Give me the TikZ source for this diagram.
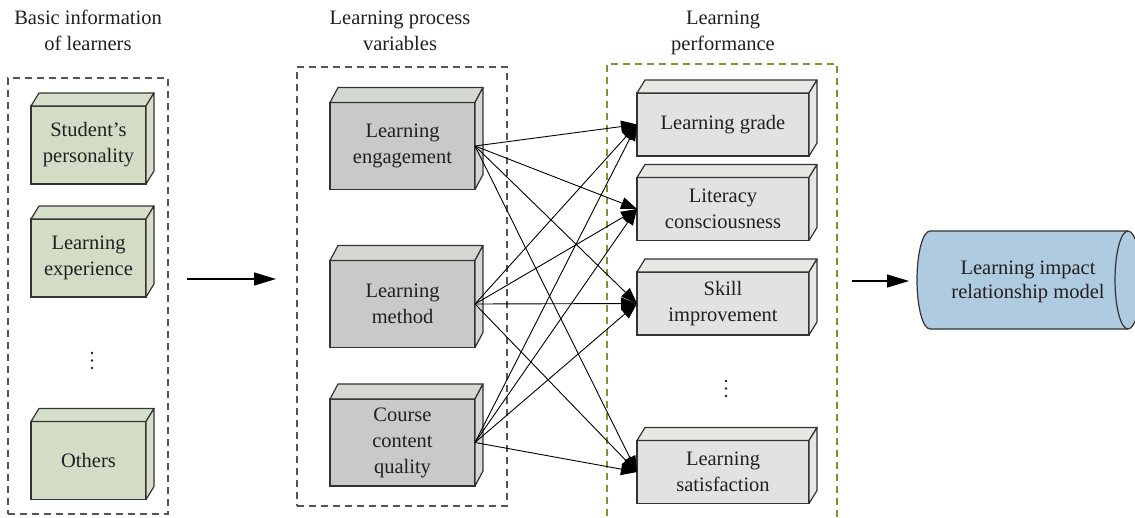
\documentclass[tikz,border=0pt]{standalone}
\usepackage{fontspec}
\setmainfont{Liberation Serif}
\usetikzlibrary{arrows.meta,calc}
\definecolor{gfill}{HTML}{D3DDC5}
\definecolor{gside}{HTML}{D6DFCA}
\definecolor{pfill}{HTML}{C8C9C8}
\definecolor{pside}{HTML}{D5D8D2}
\definecolor{rfill}{HTML}{E2E2E2}
\definecolor{rside}{HTML}{E6E8E3}
\definecolor{cylfill}{HTML}{AFCBE0}
\definecolor{edgec}{HTML}{333333}
\definecolor{textc}{HTML}{231F20}
\definecolor{framec}{HTML}{555555}
\definecolor{olivec}{HTML}{8C8C2A}
\begin{document}
\begin{tikzpicture}[x=1pt,y=-1pt,
  txt/.style={font=\rmfamily\fontsize{20.5}{26}\selectfont, text=textc, align=center},
  bx/.style={draw=edgec, line width=1.2pt, inner sep=0pt, outer sep=0pt, txt},
  gbox/.style={bx, fill=gfill, minimum width=115pt, minimum height=78pt},
  pbox/.style={bx, fill=pfill, minimum width=145pt, minimum height=87pt},
  rbox/.style={bx, fill=rfill, minimum width=172pt, minimum height=63pt},
  faces/.style={draw=edgec, line width=1.2pt, line join=round},
  frame/.style={draw=#1, line width=1.2pt, dash pattern=on 7pt off 5pt, inner sep=0pt, outer sep=0pt},
  link/.style={-{Triangle[length=16pt,width=12pt]}, line width=0.9pt, draw=black},
  bigarrow/.style={-{Triangle[length=22pt,width=13pt]}, line width=1.2pt, draw=black},
  dotmark/.style={circle, fill=textc, inner sep=0pt, minimum size=2.6pt}]
\useasboundingbox (0,0) rectangle (1135,517);
\clip (0,0) rectangle (1135,517);

% titles
\node[txt, anchor=base] (t1) at (88,50) {Basic information\\of learners};
\node[txt, anchor=base] (t2) at (400,50) {Learning process\\variables};
\node[txt, anchor=base] (t3) at (723,50) {Learning\\performance};

% frames
\node[frame=framec, minimum width=160pt, minimum height=436pt] (f1) at (88,296) {};
\node[frame=framec, minimum width=210pt, minimum height=439pt] (f2) at (402,286.5) {};
\draw[frame=olivec] (607,540) -- (607,64) -- (837,64) -- (837,540);

% green boxes
\node[gbox] (g1) at (88.5,145) {Student's\\personality};
\node[gbox] (g2) at (88.5,258) {Learning\\experience};
\node[gbox] (g3) at (88.5,460.5) {Others};
\foreach \yy [count=\i] in {353,360.5,368}{ \node[dotmark] (gd\i) at (92,\yy) {}; }
\foreach \n in {g1,g2,g3}{
  \draw[faces, fill=gside] (\n.north west) -- ++(8,-13) -- ($(\n.north east)+(8,-13)$) -- (\n.north east) -- cycle;
  \draw[faces, fill=gside] (\n.north east) -- ++(8,-13) -- ($(\n.south east)+(8,-13)$) -- (\n.south east) -- cycle;
}

% process boxes
\node[pbox] (p1) at (402.5,146) {Learning\\engagement};
\node[pbox] (p2) at (402.5,304) {Learning\\method};
\node[pbox] (p3) at (402.5,442.5) {Course\\content\\quality};
\foreach \n in {p1,p2,p3}{
  \draw[faces, fill=pside] (\n.north west) -- ++(8,-15) -- ($(\n.north east)+(8,-15)$) -- (\n.north east) -- cycle;
  \draw[faces, fill=pside] (\n.north east) -- ++(8,-15) -- ($(\n.south east)+(8,-15)$) -- (\n.south east) -- cycle;
}

% performance boxes
\node[rbox] (r1) at (723,124.5) {Learning grade};
\node[rbox] (r2) at (723,209) {Literacy\\consciousness};
\node[rbox] (r3) at (723,303.5) {Skill\\improvement};
\node[rbox] (r4) at (723,472) {Learning\\satisfaction};
\foreach \yy [count=\i] in {381,388.5,396}{ \node[dotmark] (rd\i) at (726,\yy) {}; }
\foreach \n in {r1,r2,r3,r4}{
  \draw[faces, fill=rside] (\n.north west) -- ++(8,-13) -- ($(\n.north east)+(8,-13)$) -- (\n.north east) -- cycle;
  \draw[faces, fill=rside] (\n.north east) -- ++(8,-13) -- ($(\n.south east)+(8,-13)$) -- (\n.south east) -- cycle;
}

% links
\foreach \s in {p1,p2,p3}{
  \foreach \t in {r1,r2,r3,r4}{
    \draw[link] (\s.east) -- (\t.west);
  }
}

% cylinder
\fill[cylfill] (930,231) -- (1128,231) arc[start angle=90, end angle=-90, x radius=13pt, y radius=49pt]
  -- (930,329) arc[start angle=270, end angle=90, x radius=13pt, y radius=49pt] -- cycle;
\draw[edgec, line width=1.2pt] (930,231) -- (1128,231) arc[start angle=90, end angle=-90, x radius=13pt, y radius=49pt]
  -- (930,329) arc[start angle=270, end angle=90, x radius=13pt, y radius=49pt] -- cycle;
\draw[edgec, line width=1.2pt] (1128,231) arc[start angle=90, end angle=270, x radius=13pt, y radius=49pt];
\node[txt, font=\rmfamily\fontsize{20.5}{24.5}\selectfont] (model) at (1028,282) {Learning impact\\relationship model};

% big arrows
\coordinate (a1s) at (187,279);
\coordinate (a1e) at (276,279);
\draw[bigarrow] (a1s) -- (a1e);
\coordinate (a2s) at (852,281);
\coordinate (a2e) at (909,281);
\draw[bigarrow] (a2s) -- (a2e);
\end{tikzpicture}
\end{document}
